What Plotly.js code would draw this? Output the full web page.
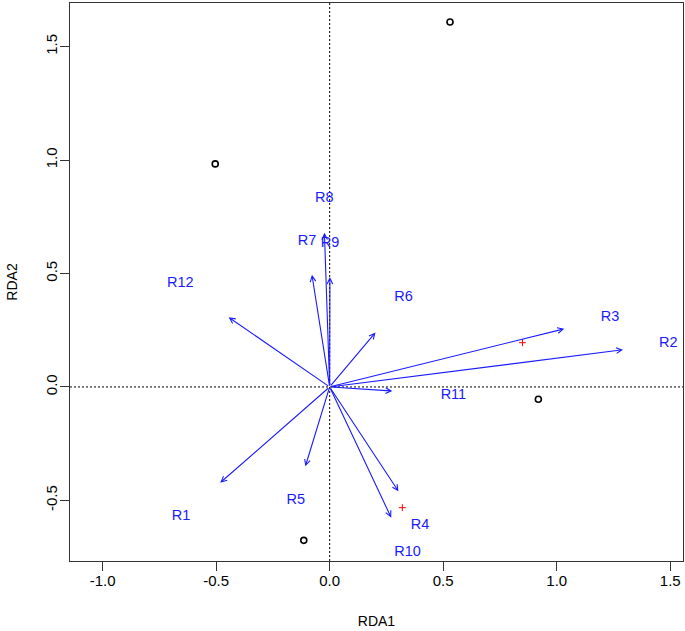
<!DOCTYPE html>
<html>
<head>
<meta charset="utf-8">
<script src="https://cdn.plot.ly/plotly-3.0.1.min.js"></script>
<style>
  html, body { margin: 0; padding: 0; background: #fff; }
  #plot { width: 685px; height: 631px; }
</style>
</head>
<body>
<div id="plot"></div>
<script>
// site scores (open circles)
var siteX = [-0.504, 0.530, 0.919, -0.114];
var siteY = [0.983, 1.608, -0.054, -0.676];

// centroids (red crosses)
var crossX = [0.849, 0.320];
var crossY = [0.195, -0.532];

// environmental vectors
var envNames = ['R1', 'R2', 'R3', 'R4', 'R5', 'R6', 'R7', 'R8', 'R9', 'R10', 'R11', 'R12'];
var envX = [-0.482, 1.292, 1.033, 0.303, -0.107, 0.202, -0.078, -0.023, 0.001, 0.271, 0.276, -0.445];
var envY = [-0.422, 0.164, 0.256, -0.460, -0.350, 0.240, 0.494, 0.679, 0.484, -0.576, -0.018, 0.307];

// label positions for the vectors
var labX = [-0.655, 1.491, 1.235, 0.398, -0.149, 0.325, -0.100, -0.024, 0.002, 0.343, 0.545, -0.658];
var labY = [-0.570, 0.190, 0.308, -0.610, -0.500, 0.393, 0.642, 0.831, 0.633, -0.728, -0.037, 0.455];

var xTicks = [-1.0, -0.5, 0.0, 0.5, 1.0, 1.5];
var yTicks = [-0.5, 0.0, 0.5, 1.0, 1.5];

var font = 'Liberation Sans, Arial, Helvetica, sans-serif';
var blue = '#1a1aff';

var traces = [
  {
    x: siteX, y: siteY,
    type: 'scatter', mode: 'markers',
    marker: {symbol: 'circle-open', size: 6, color: '#000', line: {width: 1.6, color: '#000'}},
    hoverinfo: 'skip'
  },
  {
    x: crossX, y: crossY,
    type: 'scatter', mode: 'markers',
    marker: {symbol: 'cross-thin-open', size: 5, color: '#ff0000', line: {width: 1, color: '#ff0000'}},
    hoverinfo: 'skip'
  },
  {
    x: labX, y: labY, text: envNames,
    type: 'scatter', mode: 'text',
    textfont: {family: font, size: 14.5, color: blue},
    textposition: 'middle center',
    hoverinfo: 'skip'
  }
];

// arrows from origin to each vector tip
var arrows = envNames.map(function (n, i) {
  return {
    x: envX[i], y: envY[i], xref: 'x', yref: 'y',
    ax: 0, ay: 0, axref: 'x', ayref: 'y',
    text: '', showarrow: true,
    arrowhead: 5, arrowsize: 1, arrowwidth: 1.1,
    arrowcolor: blue
  };
});

var layout = {
  width: 685, height: 631,
  margin: {l: 70, r: 2, t: 3, b: 70, pad: 0},
  paper_bgcolor: '#fff', plot_bgcolor: '#fff',
  showlegend: false,
  font: {family: font, size: 14, color: '#000'},
  xaxis: {
    range: [-1.1435, 1.556],
    tickvals: xTicks,
    ticktext: xTicks.map(function (v) { return v.toFixed(1); }),
    ticks: 'outside', ticklen: 9, tickwidth: 1, tickcolor: '#333',
    ticklabelstandoff: -3,
    showline: true, mirror: true, linecolor: '#333', linewidth: 1.2,
    showgrid: false, zeroline: false,
    tickfont: {family: font, size: 15, color: '#000'},
    title: {text: 'RDA1', font: {family: font, size: 14, color: '#000'}, standoff: 28}
  },
  yaxis: {
    range: [-0.767, 1.692],
    tickvals: yTicks,
    ticktext: yTicks.map(function (v) { return v.toFixed(1); }),
    tickangle: -90,
    ticks: 'outside', ticklen: 9, tickwidth: 1, tickcolor: '#333',
    ticklabelstandoff: -3,
    showline: true, mirror: true, linecolor: '#333', linewidth: 1.2,
    showgrid: false, zeroline: false,
    tickfont: {family: font, size: 15, color: '#000'},
    title: {text: 'RDA2', font: {family: font, size: 14, color: '#000'}, standoff: 21}
  },
  shapes: [
    {type: 'line', xref: 'x', yref: 'paper', x0: 0, x1: 0, y0: 0, y1: 1,
     line: {color: '#000', width: 1, dash: '2px,2px'}, layer: 'below'},
    {type: 'line', xref: 'paper', yref: 'y', x0: 0, x1: 1, y0: 0, y1: 0,
     line: {color: '#000', width: 1, dash: '2px,2px'}, layer: 'below'}
  ],
  annotations: arrows
};

Plotly.newPlot('plot', traces, layout, {staticPlot: true, displayModeBar: false});
</script>
</body>
</html>
